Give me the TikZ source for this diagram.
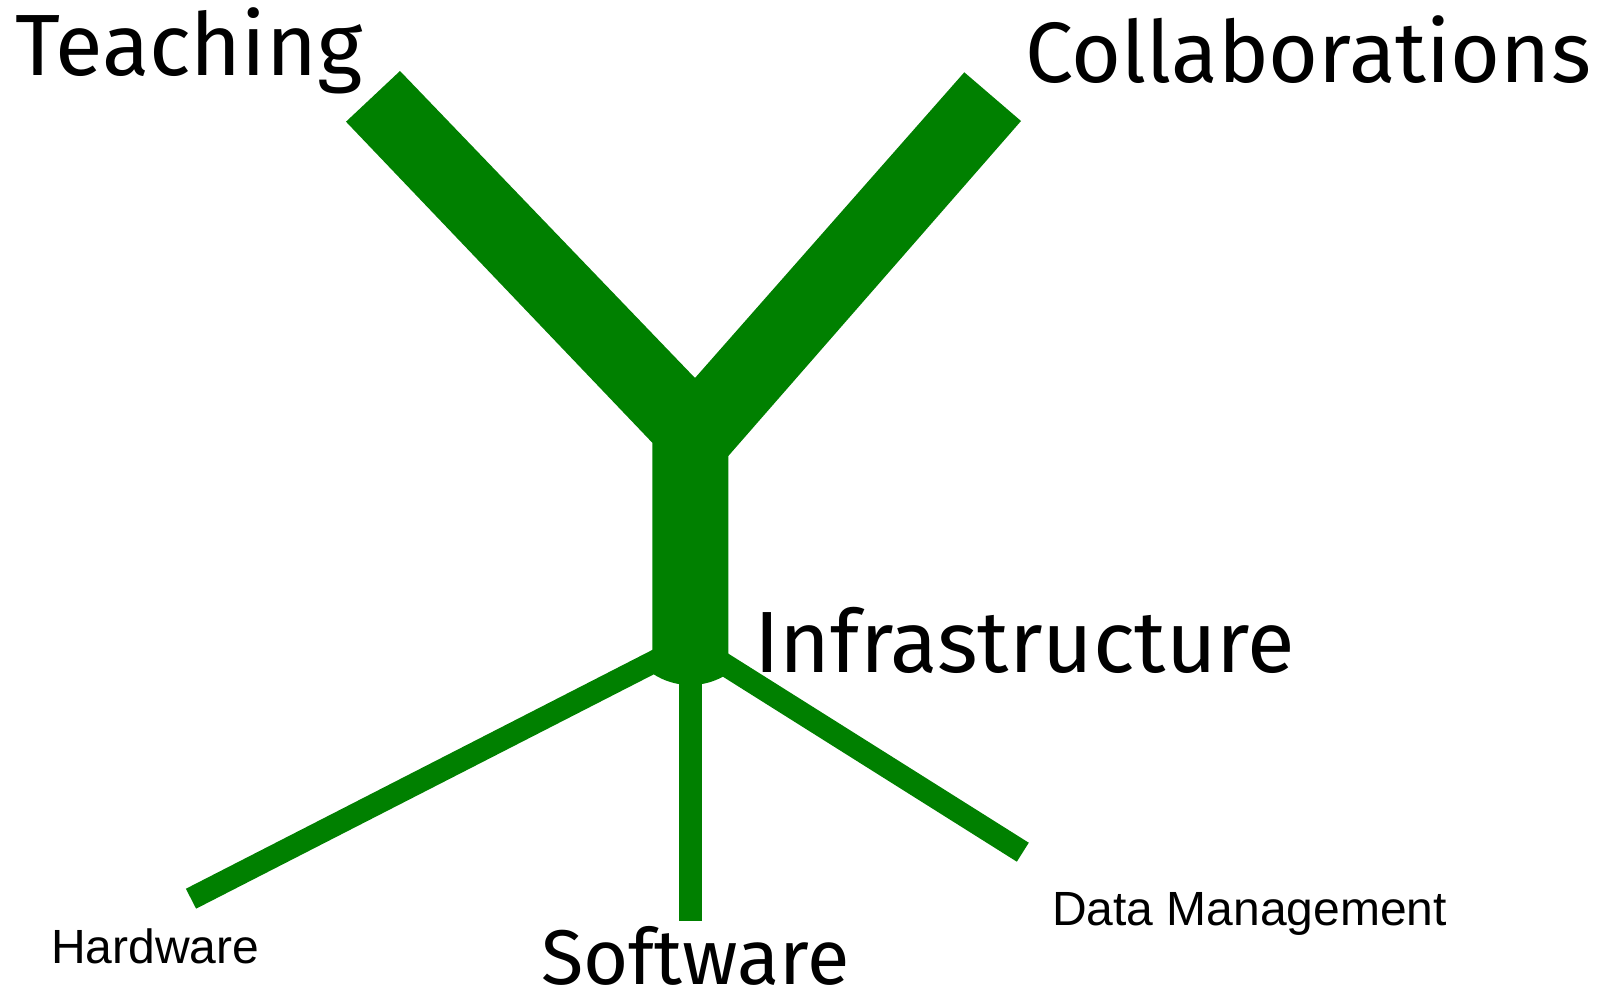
\documentclass[tikz,border=0pt]{standalone}
\usepackage{fontspec}
\setmainfont{Fira Sans}
\newfontfamily\armfont{Liberation Sans}
\definecolor{treegreen}{RGB}{0,128,0}
\begin{document}
\begin{tikzpicture}[x=1pt,y=-1pt,
  bigtext/.style={anchor=base west,inner sep=0pt,font=\fontsize{87}{90}\selectfont},
  smalltext/.style={anchor=base west,inner sep=0pt,font=\armfont\fontsize{48}{50}\selectfont},
  thinarm/.style={draw=treegreen,line width=22.4pt,line cap=butt}]
\useasboundingbox[fill=white] (0,0) rectangle (1603,991);
% junction and arm ends
\coordinate (hub) at (690.4,643);
\coordinate (hwend) at (191,898.7);
\coordinate (swend) at (690.4,920.7);
\coordinate (dmend) at (1022.8,852.2);
% thin arms
\draw[thinarm] (hub) -- (hwend);
\draw[thinarm] (hub) -- (swend);
\draw[thinarm] (hub) -- (dmend);
% thick Y
\fill[treegreen] (346,121.7) -- (400,71) -- (695,378) -- (964.3,72.3) -- (1021,121)
  -- (728.3,456) -- (728.3,673.4)
  .. controls (705.35,688.9) and (675.25,688.9) .. (652.3,673.4)
  -- (652.3,442.7) -- cycle;
% labels
\node[bigtext] (teach) at (15,75) {Teaching};
\node[bigtext,font=\fontsize{85.7}{90}\selectfont] (collab) at (1025,82) {Collaborations};
\node[bigtext] (infra) at (754,672) {Infrastructure};
\node[bigtext,font=\fontsize{77.5}{80}\selectfont] (soft) at (541,984) {Software};
\node[smalltext] (hw) at (51,963) {Hardware};
\node[smalltext] (dm) at (1052,925) {Data Management};
\end{tikzpicture}
\end{document}
